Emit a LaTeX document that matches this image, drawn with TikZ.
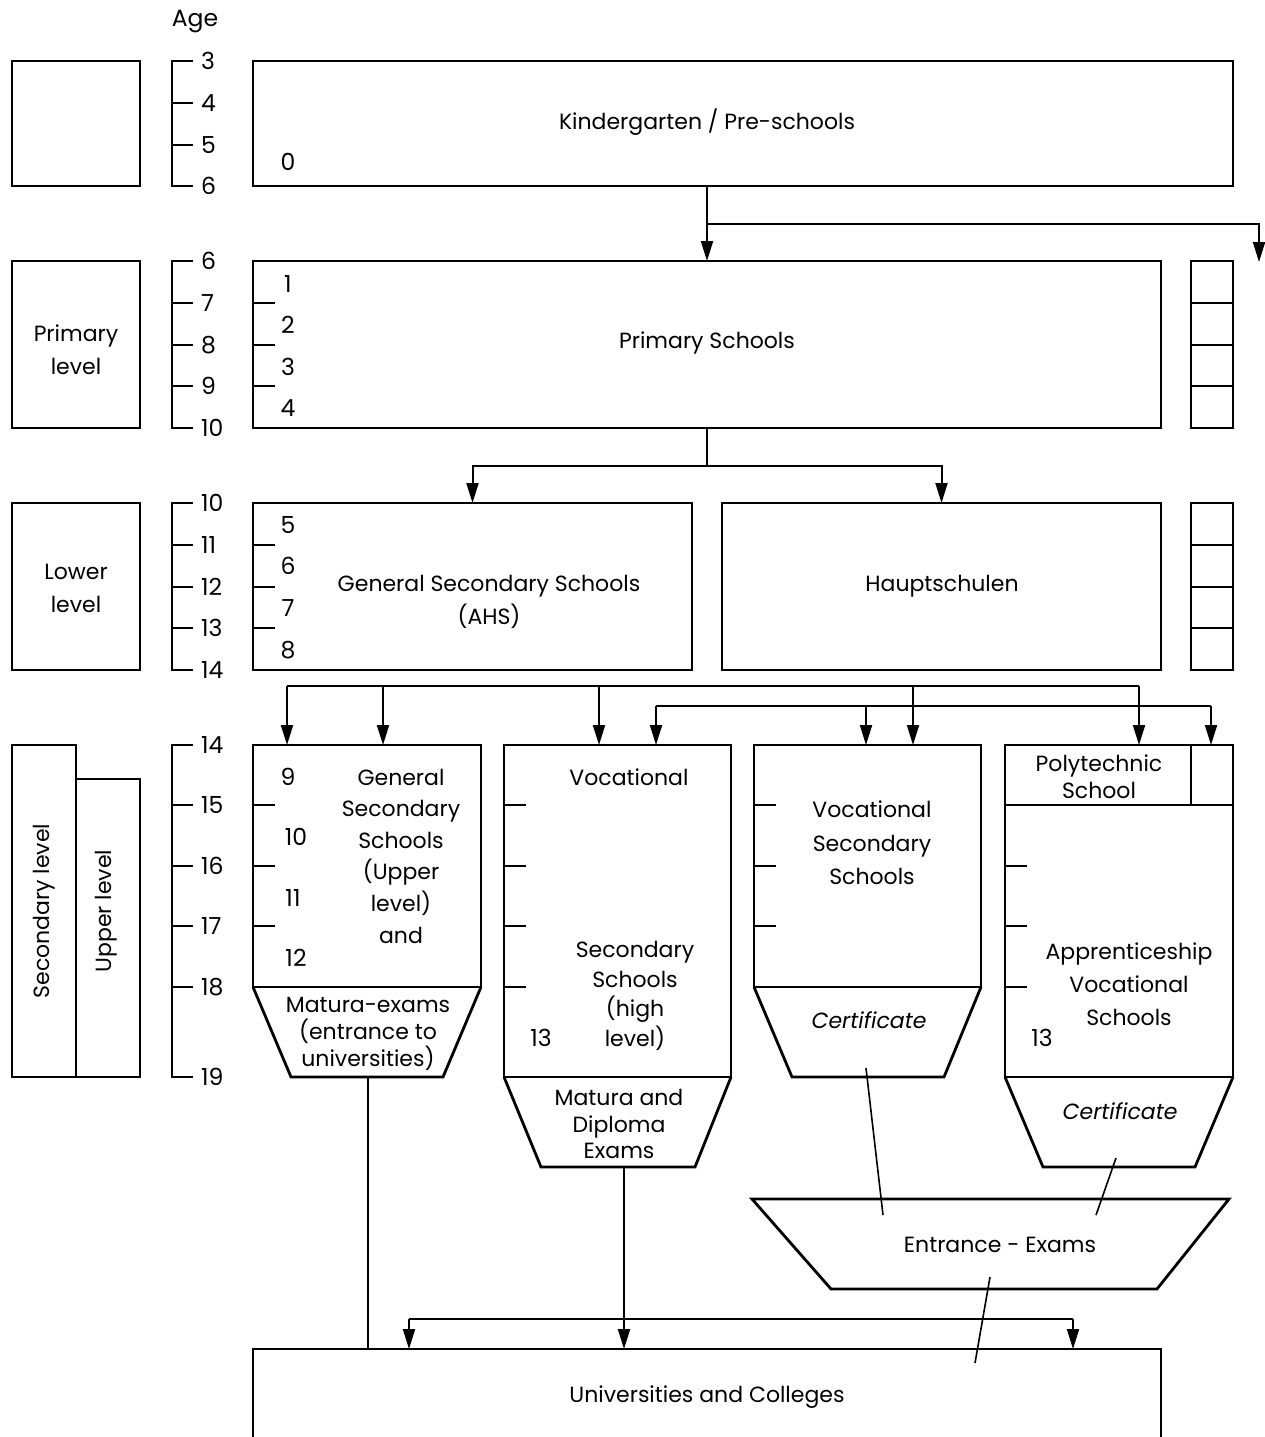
\documentclass[tikz,border=0pt]{standalone}
\usepackage{fontspec}
\setmainfont{Poppins}
\usetikzlibrary{arrows.meta}
\begin{document}
\begin{tikzpicture}[x=1pt,y=-1pt,
  box/.style={draw, line width=2.8pt, inner sep=0pt, outer sep=0pt, anchor=north west},
  thk/.style={line width=2.8pt},
  conn/.style={line width=2pt},
  thin/.style={line width=1.6pt},
  arr/.style={conn, -{Triangle[length=20pt,width=12pt]}},
  lbl/.style={font=\fontsize{22}{31}\selectfont, inner sep=0pt, align=center},
  num/.style={font=\fontsize{23.5}{26}\selectfont, inner sep=0pt},
  tickl/.style={line width=1.8pt}
]
\clip (0,0) rectangle (1265,1437);
\fill[white] (0,0) rectangle (1265,1437);

% ---------- top row ----------
\node[num] (age) at (195,22) {Age};
\node[box, minimum width=128, minimum height=125] (lb0) at (12,61) {};
\draw[tickl] (193,61) -- (172,61) -- (172,186) -- (193,186);
\foreach \y in {103,145} \draw[tickl] (172,\y) -- (193,\y);
\foreach \y/\t in {61/3,103/4,145/5,186/6} \node[num, anchor=west] (a\t) at (201,\y) {\t};
\node[box, minimum width=980, minimum height=125] (kg) at (253,61) {};
\node[lbl] (kgT) at (707,122) {Kindergarten / Pre-schools};
\node[num] (kg0) at (288,162) {0};

% ---------- primary row ----------
\node[box, minimum width=128, minimum height=167] (lb1) at (12,261) {};
\node[lbl, font=\fontsize{22}{33}\selectfont] (lb1T) at (76,350) {Primary\\level};
\draw[tickl] (193,261) -- (172,261) -- (172,428) -- (193,428);
\foreach \y in {303,345,386} \draw[tickl] (172,\y) -- (193,\y);
\foreach \y/\t in {261/6,303/7,345/8,386/9,428/10} \node[num, anchor=west] (b\t) at (201,\y) {\t};
\node[box, minimum width=908, minimum height=167] (ps) at (253,261) {};
\foreach \y in {303,345,386} \draw[tickl] (253,\y) -- (275,\y);
\foreach \y/\t in {284/1,325/2,367/3,408/4} \node[num] (p\t) at (288,\y) {\t};
\node[lbl] (psT) at (707,343) {Primary Schools};
\node[box, minimum width=42, minimum height=167] (rb1) at (1191,261) {};
\foreach \y in {303,345,386} \draw[thk] (1191,\y) -- (1233,\y);

% kindergarten -> primary
\coordinate (k1) at (707,224);
\coordinate (k2) at (1259,224);
\coordinate (k3) at (1259,262);
\draw[arr] (kg.south -| ps.north) -- (ps.north);
\draw[arr] (k1) -- (k2) -- (k3);

% ---------- lower row ----------
\node[box, minimum width=128, minimum height=167] (lb2) at (12,503) {};
\node[lbl, font=\fontsize{22}{33}\selectfont] (lb2T) at (76,588) {Lower\\level};
\draw[tickl] (193,503) -- (172,503) -- (172,670) -- (193,670);
\foreach \y in {545,587,628} \draw[tickl] (172,\y) -- (193,\y);
\foreach \y/\t in {503/10,545/11,587/12,628/13,670/14} \node[num, anchor=west] (c\t) at (201,\y) {\t};
\node[box, minimum width=439, minimum height=167] (ahs) at (253,503) {};
\foreach \y in {545,587,628} \draw[tickl] (253,\y) -- (275,\y);
\foreach \y/\t in {525/5,566/6,608/7,650/8} \node[num] (l\t) at (288,\y) {\t};
\node[lbl, font=\fontsize{22}{33}\selectfont] (ahsT) at (489,602) {General Secondary Schools\\(AHS)};
\node[box, minimum width=439, minimum height=167] (hs) at (722,503) {};
\node[lbl] (hsT) at (942,586) {Hauptschulen};
\node[box, minimum width=42, minimum height=167] (rb2) at (1191,503) {};
\foreach \y in {545,587,628} \draw[thk] (1191,\y) -- (1233,\y);

% primary -> lower
\coordinate (p1) at (707,466);
\draw[conn] (ps.south) -- (p1);
\draw[arr] (p1) -| (ahs.north);
\draw[arr] (p1) -| (hs.north);

% ---------- secondary row ----------
\node[box, minimum width=64, minimum height=332] (secL) at (12,745) {};
\node[box, minimum width=64, minimum height=298] (upL) at (76,779) {};
\node[lbl, rotate=90] (secLT) at (44,911) {Secondary level};
\node[lbl, rotate=90] (upLT) at (106,911) {Upper level};
\draw[tickl] (193,745) -- (172,745) -- (172,1077) -- (193,1077);
\foreach \y in {805,866,926,987} \draw[tickl] (172,\y) -- (193,\y);
\foreach \y/\t in {745/14,805/15,866/16,926/17,987/18,1077/19} \node[num, anchor=west] (d\t) at (201,\y) {\t};

% box A
\node[box, minimum width=228, minimum height=242] (bA) at (253,745) {};
\foreach \y in {805,866,926} \draw[tickl] (253,\y) -- (275,\y);
\node[num] (n9) at (288,777) {9};
\node[num] (n10) at (296,837) {10};
\node[num] (n11) at (293,898) {11};
\node[num] (n12) at (296,958) {12};
\node[lbl, font=\fontsize{22}{31.6}\selectfont] (bAT) at (401,856) {General\\Secondary\\Schools\\(Upper\\level)\\and};
\draw[thk] (253,987) -- (291,1077) -- (443,1077) -- (481,987);
\coordinate (tAb) at (368,1077);
\node[lbl, font=\fontsize{22}{27}\selectfont] (tAT) at (368,1034) {Matura-exams\\(entrance to\\universities)};

% box B
\node[box, minimum width=227, minimum height=332] (bB) at (504,745) {};
\foreach \y in {805,866,926,987} \draw[tickl] (504,\y) -- (526,\y);
\node[lbl] (bBT1) at (629,777) {Vocational};
\node[lbl, font=\fontsize{22}{29.5}\selectfont] (bBT2) at (635,996) {Secondary\\Schools\\(high\\level)};
\node[num] (n13b) at (541,1038) {13};
\draw[thk] (504,1077) -- (541,1167) -- (695,1167) -- (731,1077);
\coordinate (tBb) at (624,1167);
\node[lbl, font=\fontsize{22}{26.5}\selectfont] (tBT) at (619,1124) {Matura and\\Diploma\\Exams};

% box C
\node[box, minimum width=227, minimum height=242] (bC) at (754,745) {};
\foreach \y in {805,866,926} \draw[tickl] (754,\y) -- (776,\y);
\node[lbl, font=\fontsize{22}{33.5}\selectfont] (bCT) at (872,843) {Vocational\\Secondary\\Schools};
\draw[thk] (754,987) -- (792,1077) -- (944,1077) -- (981,987);
\node[lbl, font=\itshape\fontsize{22}{26}\selectfont] (tCT) at (869,1020) {Certificate};

% box D
\node[box, minimum width=228, minimum height=332] (bD) at (1005,745) {};
\draw[thk] (1005,805) -- (1233,805);
\draw[thk] (1191,745) -- (1191,805);
\node[lbl, font=\fontsize{22}{27}\selectfont] (polyT) at (1099,777) {Polytechnic\\School};
\foreach \y in {866,926,987} \draw[tickl] (1005,\y) -- (1027,\y);
\node[lbl, font=\fontsize{22}{33}\selectfont] (bDT) at (1129,984) {Apprenticeship\\Vocational\\Schools};
\node[num] (n13d) at (1042,1038) {13};
\draw[thk] (1005,1077) -- (1043,1167) -- (1195,1167) -- (1233,1077);
\node[lbl, font=\itshape\fontsize{22}{26}\selectfont] (tDT) at (1120,1111) {Certificate};

% lower/haupt -> secondary arrows
\coordinate (h1a) at (287,686);
\coordinate (h1b) at (1139,686);
\draw[conn] (h1a) -- (h1b);
\draw[arr] (h1a) -- (h1a |- bA.north);
\draw[arr] (383,686) -- (383,0 |- bA.north);
\draw[arr] (599,686) -- (599,0 |- bB.north);
\draw[arr] (913,686) -- (913,0 |- bC.north);
\draw[arr] (h1b) -- (h1b |- bD.north);
\coordinate (h2a) at (656,706);
\coordinate (h2b) at (1211,706);
\draw[conn] (h2a) -- (h2b);
\draw[arr] (h2a) -- (h2a |- bB.north);
\draw[arr] (866,706) -- (866,0 |- bC.north);
\draw[arr] (h2b) -- (h2b |- bD.north);

% entrance exams
\draw[thk] (752,1199) -- (1229,1199) -- (1157,1289) -- (831,1289) -- cycle;
\node[lbl] (entT) at (1000,1245) {Entrance - Exams};
\coordinate (sC1) at (866,1068);
\coordinate (sC2) at (883,1215);
\coordinate (sD1) at (1116,1158);
\coordinate (sD2) at (1096,1215);
\coordinate (sE1) at (990,1277);
\coordinate (sE2) at (975,1363);
\draw[thin] (sC1) -- (sC2);
\draw[thin] (sD1) -- (sD2);
\draw[thin] (sE1) -- (sE2);

% universities
\node[box, minimum width=908, minimum height=120] (uni) at (253,1349) {};
\node[lbl] (uniT) at (707,1397) {Universities and Colleges};
\coordinate (u1) at (409,1319);
\coordinate (u2) at (1073,1319);
\draw[conn] (tAb) -- (tAb |- uni.north);
\draw[arr] (tBb) -- (tBb |- uni.north);
\draw[conn] (u1) -- (u2);
\draw[arr] (u1) -- (u1 |- uni.north);
\draw[arr] (u2) -- (u2 |- uni.north);
\end{tikzpicture}
\end{document}
